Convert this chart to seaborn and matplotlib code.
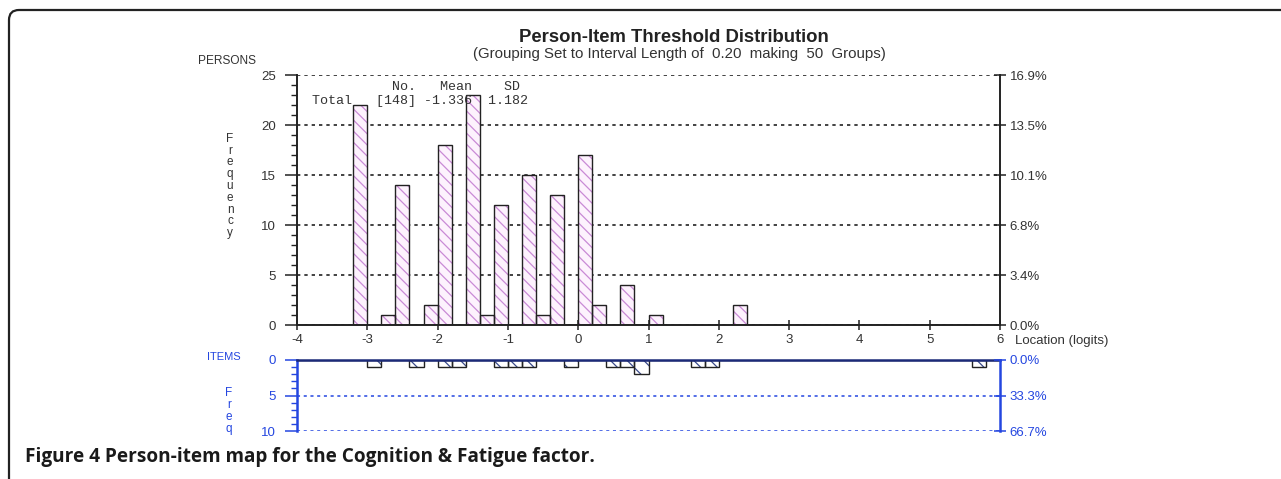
import pandas as pd
import matplotlib
matplotlib.use("Agg")
import matplotlib.pyplot as plt
from matplotlib.patches import FancyBboxPatch
from matplotlib.ticker import MultipleLocator
import seaborn as sns

# person thresholds: bin centres (logits) of the non-empty 0.2-wide groups and their counts
person_locs = [-3.1, -2.7, -2.5, -2.1, -1.9, -1.5, -1.3, -1.1, -0.7, -0.5, -0.3, 0.1, 0.3, 0.7, 1.1, 2.3]
person_counts = [22, 1, 14, 2, 18, 23, 1, 12, 15, 1, 13, 17, 2, 4, 1, 2]

# item thresholds
item_locs = [-2.9, -2.3, -1.9, -1.7, -1.1, -0.9, -0.7, -0.1, 0.5, 0.7, 0.9, 1.7, 1.9, 5.7]
item_counts = [1, 1, 1, 1, 1, 1, 1, 1, 1, 1, 2, 1, 1, 1]

person_no = 148
person_mean = -1.336
person_sd = 1.182
item_total = 15

x_ticks = list(range(-4, 7))
person_yticks = [0, 5, 10, 15, 20, 25]
item_yticks = [0, 5, 10]

W, H = 1281, 479
BLUE = "#2446e0"
NAVY = "#1c2a78"
GREY = "#333333"
TICK_FS = 9.5

persons = pd.DataFrame({"loc": person_locs, "n": person_counts})
items = pd.DataFrame({"loc": item_locs, "n": item_counts})

sns.set_style("white")
plt.rcParams.update({
    "font.family": ["Liberation Sans", "DejaVu Sans"],
    "hatch.linewidth": 0.9,
    "axes.linewidth": 1.4,
    "axes.unicode_minus": False,
})

fig = plt.figure(figsize=(W / 100, H / 100), dpi=100)


def fx(x):
    return x / W


def fy(y):
    return 1 - y / H


hist_kw = dict(binwidth=0.2, binrange=(-4, 6))

# ---------------- persons (top) ----------------
ax = fig.add_axes([fx(297), fy(325), fx(703), 250 / H])
sns.histplot(data=persons, x="loc", weights="n", ax=ax, **hist_kw,
             fill=True, facecolor="#fdf2fd", edgecolor="#c98ad6",
             linewidth=0, hatch="\\\\\\", alpha=1)
sns.histplot(data=persons, x="loc", weights="n", ax=ax, **hist_kw,
             fill=False, color="#222222", linewidth=1.0)
ax.set_xlim(-4, 6)
ax.set_ylim(0, 25)
ax.set_xlabel("")
ax.set_ylabel("")
ax.set_xticks(x_ticks)
ax.set_yticks(person_yticks)
ax.yaxis.set_minor_locator(MultipleLocator(1))
ax.tick_params(axis="y", which="major", direction="out", length=9, width=1.1,
               colors="#222222", labelcolor=GREY, labelsize=TICK_FS, pad=6, left=True)
ax.tick_params(axis="y", which="minor", direction="out", length=4.5, width=1.0,
               colors="#222222", left=True)
ax.tick_params(axis="x", which="major", direction="inout", length=7, width=1.1,
               colors="#222222", labelcolor=GREY, labelsize=TICK_FS, pad=3, bottom=True)
ax.yaxis.grid(True, linestyle=(0, (2, 2.4)), color="#222222", linewidth=1.2)
ax.set_axisbelow(True)
for s in ["top", "right"]:
    ax.spines[s].set_visible(False)
for s in ["left", "bottom"]:
    ax.spines[s].set_color("#222222")

axr = ax.twinx()
axr.set_ylim(0, 25)
axr.set_yticks(person_yticks)
axr.set_yticklabels([f"{v / person_no * 100:.1f}%" for v in person_yticks])
axr.tick_params(axis="y", direction="inout", length=8, width=1.1, colors="#222222",
                labelcolor=GREY, labelsize=TICK_FS, pad=3, right=True)
for s in ["top", "left", "bottom"]:
    axr.spines[s].set_visible(False)
axr.spines["right"].set_color("#222222")

# ---------------- items (bottom) ----------------
axi = fig.add_axes([fx(297), fy(431), fx(703), 71 / H])
sns.histplot(data=items, x="loc", weights="n", ax=axi, **hist_kw,
             fill=True, facecolor="white", edgecolor="#3a4a8a",
             linewidth=0, hatch="\\\\", alpha=1)
sns.histplot(data=items, x="loc", weights="n", ax=axi, **hist_kw,
             fill=False, color="#222222", linewidth=1.0)
axi.set_xlim(-4, 6)
axi.set_ylim(10, 0)
axi.set_xlabel("")
axi.set_ylabel("")
axi.set_xticks([])
axi.set_yticks(item_yticks)
axi.yaxis.set_minor_locator(MultipleLocator(1))
axi.tick_params(axis="y", which="major", direction="out", length=9, width=1.1,
                colors=BLUE, labelcolor=BLUE, labelsize=TICK_FS, pad=6, left=True)
axi.tick_params(axis="y", which="minor", direction="out", length=4.5, width=1.0,
                colors=BLUE, left=True)
axi.yaxis.grid(True, linestyle=(0, (2, 2.4)), color=BLUE, linewidth=1.1)
axi.set_axisbelow(True)
axi.spines["bottom"].set_visible(False)
axi.spines["right"].set_visible(False)
axi.spines["left"].set_color(BLUE)
axi.spines["left"].set_linewidth(1.8)
axi.spines["top"].set_color(NAVY)
axi.spines["top"].set_linewidth(1.8)

axir = axi.twinx()
axir.set_ylim(10, 0)
axir.set_yticks(item_yticks)
axir.set_yticklabels([f"{v / item_total * 100:.1f}%" for v in item_yticks])
axir.tick_params(axis="y", direction="inout", length=8, width=1.1, colors=BLUE,
                 labelcolor=BLUE, labelsize=TICK_FS, pad=3, right=True)
for s in ["top", "left", "bottom"]:
    axir.spines[s].set_visible(False)
axir.spines["right"].set_color(BLUE)
axir.spines["right"].set_linewidth(1.8)

# ---------------- text ----------------
fig.text(fx(674), fy(37), "Person-Item Threshold Distribution", ha="center", va="center",
         fontsize=13.3, fontweight="bold", color="#222222")
fig.text(fx(679), fy(54), "(Grouping Set to Interval Length of  0.20  making  50  Groups)",
         ha="center", va="center", fontsize=10.8, color=GREY)
fig.text(fx(198), fy(61), "PERSONS", ha="left", va="center", fontsize=8.6, color=GREY)
fig.text(fx(230), fy(186), "\n".join("Frequency"), ha="center", va="center",
         fontsize=8.5, color=GREY, linespacing=0.98)
fig.text(fx(1015), fy(341), "Location (logits)", ha="left", va="center",
         fontsize=TICK_FS, color=GREY)
fig.text(fx(241), fy(357), "ITEMS", ha="right", va="center", fontsize=8, color=BLUE)
fig.text(fx(229), fy(411), "\n".join("Freq"), ha="center", va="center",
         fontsize=8.5, color=BLUE, linespacing=0.98)

mono = ["Liberation Mono", "DejaVu Sans Mono"]
fig.text(fx(312), fy(87), " " * 10 + "No.   Mean    SD", ha="left", va="center",
         fontsize=9.6, family=mono, color=GREY)
fig.text(fx(312), fy(101), f"Total   [{person_no}] {person_mean:.3f}  {person_sd:.3f}",
         ha="left", va="center", fontsize=9.6, family=mono, color=GREY)

fig.text(fx(25), fy(457), "Figure 4 Person-item map for the Cognition & Fatigue factor.",
         ha="left", va="center", fontsize=13.7, fontweight="bold",
         family=["Open Sans", "DejaVu Sans"], color="#1a1a1a")

# outer frame: rounded top-left corner, open on the right and bottom
frame = FancyBboxPatch((0.09, -1.0), 20, 4.69 + 1.0,
                       boxstyle="round,pad=0,rounding_size=0.1",
                       transform=fig.dpi_scale_trans, fill=False,
                       edgecolor="#222222", linewidth=1.6)
fig.add_artist(frame)

fig.savefig("out.png", dpi=100)
